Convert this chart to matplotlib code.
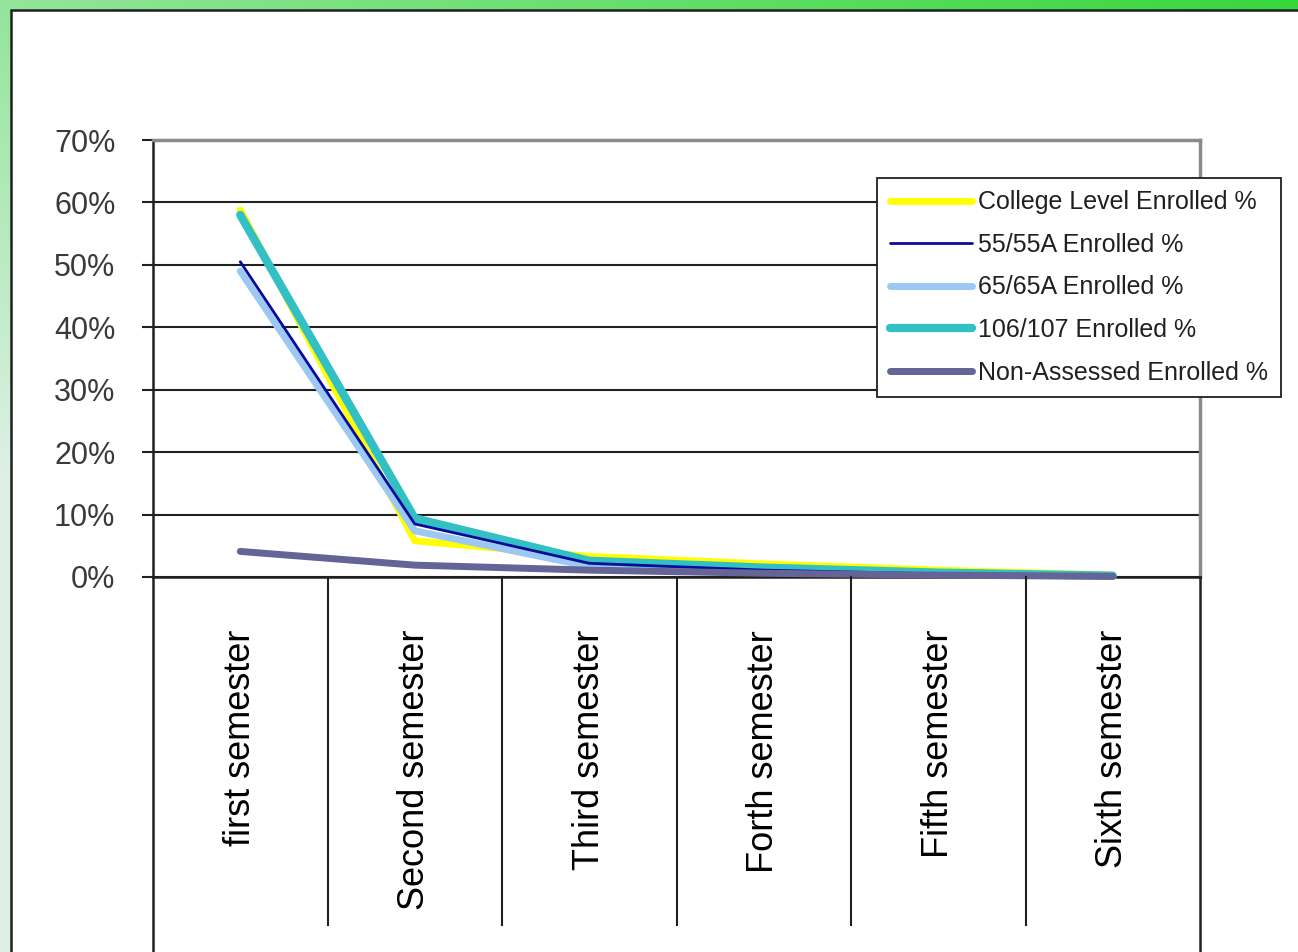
import numpy as np
import matplotlib
matplotlib.use("Agg")
import matplotlib.pyplot as plt
from matplotlib.lines import Line2D
from matplotlib.patches import Rectangle
from matplotlib.transforms import blended_transform_factory
from matplotlib.ticker import FuncFormatter

plt.rcParams['font.family'] = ['Liberation Sans', 'DejaVu Sans']

# ---- data -------------------------------------------------------------
semesters = ["first semester", "Second semester", "Third semester",
             "Forth semester", "Fifth semester", "Sixth semester"]
college_level = [58.8, 5.8, 3.3, 2.1, 1.1, 0.3]
enrolled_55 = [50.5, 8.5, 2.2, 1.1, 0.5, 0.2]
enrolled_65 = [49.0, 7.4, 1.7, 0.9, 0.4, 0.1]
enrolled_106 = [58.0, 9.4, 2.6, 1.5, 0.7, 0.2]
non_assessed = [4.1, 1.9, 1.1, 0.6, 0.3, 0.1]
y_ticks = [0, 10, 20, 30, 40, 50, 60, 70]

W, H = 1298, 952
fig = plt.figure(figsize=(W / 100, H / 100), dpi=100)

# ---- green slide background ------------------------------------------
bg = fig.add_axes([0, 0, 1, 1], zorder=-10)
bg.set_axis_off()
yy, xx = np.mgrid[0:1:200j, 0:1:300j]
t = np.clip(0.55 * (1 - xx) + 0.9 * yy, 0, 1)
bright = np.array([55, 215, 60]) / 255
pale = np.array([222, 240, 230]) / 255
img = bright[None, None, :] * (1 - t[..., None]) + pale[None, None, :] * t[..., None]
bg.imshow(img, extent=[0, 1, 0, 1], aspect='auto', origin='upper')
bg.set_xlim(0, 1)
bg.set_ylim(0, 1)
bg.add_patch(Rectangle((11 / W, -0.01), 1.0, 1 - 10 / H + 0.01,
                       facecolor='white', edgecolor='#202020', linewidth=1.8))

# ---- chart axes -------------------------------------------------------
left, right = 153 / W, 1200 / W
top, bottom = 1 - 140 / H, 1 - 577 / H
ax = fig.add_axes([left, bottom, right - left, top - bottom])
x = np.arange(len(semesters))
ax.set_xlim(-0.5, len(semesters) - 0.5)
ax.set_ylim(0, 70)

ax.set_yticks(y_ticks)
ax.yaxis.set_major_formatter(FuncFormatter(lambda v, p: f"{v:.0f}%"))
ax.tick_params(axis='y', length=8, width=1.5, color='#202020', pad=19,
               labelsize=22, labelcolor='#3a3a3a', direction='out')
ax.set_xticks([])
ax.grid(axis='y', color='#202020', linewidth=1.5)
ax.set_axisbelow(True)

for side in ['top', 'right']:
    ax.spines[side].set_color('#8a8a8a')
    ax.spines[side].set_linewidth(2.5)
ax.spines['left'].set_color('#202020')
ax.spines['left'].set_linewidth(1.8)
ax.spines['bottom'].set_color('#202020')
ax.spines['bottom'].set_linewidth(1.8)

series = [
    ("College Level Enrolled %", college_level, '#ffff00', 5.0, 2),
    ("55/55A Enrolled %", enrolled_55, '#0a0a9a', 2.0, 5),
    ("65/65A Enrolled %", enrolled_65, '#9cc8f4', 5.0, 3),
    ("106/107 Enrolled %", enrolled_106, '#33c0c4', 6.0, 4),
    ("Non-Assessed Enrolled %", non_assessed, '#646496', 5.0, 6),
]
handles = []
for label, vals, color, lw, z in series:
    ax.plot(x, vals, color=color, linewidth=lw, zorder=z,
            solid_capstyle='round', solid_joinstyle='round', clip_on=False)
    handles.append(Line2D([0], [0], color=color, linewidth=lw, label=label,
                          solid_capstyle='round'))

# ---- category table below the plot -----------------------------------
trans = blended_transform_factory(ax.transData, fig.transFigure)
for b in np.arange(0.5, len(semesters) - 1, 1.0):
    fig.add_artist(Line2D([b, b], [bottom, 1 - 925 / H], transform=trans,
                          color='#202020', linewidth=1.5))
for b in [-0.5, len(semesters) - 0.5]:
    fig.add_artist(Line2D([b, b], [bottom, 0], transform=trans,
                          color='#202020', linewidth=1.8))

for xi, name in zip(x, semesters):
    fig.text(xi, 1 - 630 / H, name, transform=trans,
             rotation=90, ha='center', va='top', fontsize=26, color='#000000')

# ---- legend ------------------------------------------------------------
leg = fig.legend(handles=handles, loc='upper left',
                 bbox_to_anchor=(877 / W, 1 - 178 / H), fontsize=18,
                 frameon=True, fancybox=False, framealpha=1.0,
                 handlelength=3.3, handletextpad=0.25, labelspacing=0.74,
                 borderpad=0.5, borderaxespad=0)
leg.get_frame().set_edgecolor('#202020')
leg.get_frame().set_linewidth(1.3)
leg.set_zorder(10)
for txt in leg.get_texts():
    txt.set_color('#202020')

fig.savefig("out.png", dpi=100)
